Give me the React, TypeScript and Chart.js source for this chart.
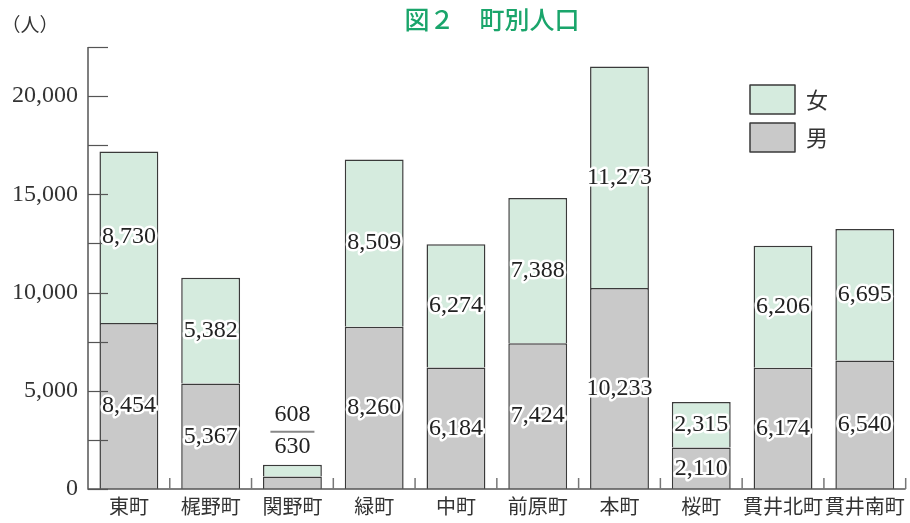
import React, { useEffect, useRef } from "react";
import { Chart, registerables } from "chart.js";

Chart.register(...registerables);

const categories = ["東町", "梶野町", "関野町", "緑町", "中町", "前原町", "本町", "桜町", "貫井北町", "貫井南町"];
const maleValues = [8454, 5367, 630, 8260, 6184, 7424, 10233, 2110, 6174, 6540];
const femaleValues = [8730, 5382, 608, 8509, 6274, 7388, 11273, 2315, 6206, 6695];
const yMax = 22500;
const yStep = 2500;
const yLabelStep = 5000;
const titleText = "図２　町別人口";
const unitText = "（人）";

const NUM_FONT = '24px "Liberation Serif", serif';
const CJK = '"Noto Sans CJK JP", sans-serif';
const FEMALE_COLOR = "#d5ebde";
const MALE_COLOR = "#c9c9c9";
const EDGE = "#3a3a3a";

const fmt = (v: number) => v.toLocaleString("en-US");

const decorPlugin = {
  id: "decor",
  afterDatasetsDraw(chart: any) {
    const ctx = chart.ctx;
    const area = chart.chartArea;
    const x = chart.scales.x;
    const y = chart.scales.y;
    ctx.save();
    // axes
    ctx.strokeStyle = "#555";
    ctx.lineWidth = 1.5;
    ctx.beginPath();
    ctx.moveTo(area.left, area.top);
    ctx.lineTo(area.left, area.bottom);
    ctx.lineTo(area.right, area.bottom);
    ctx.stroke();
    // inward y ticks
    ctx.lineWidth = 1.2;
    for (let v = 0; v <= yMax; v += yStep) {
      const py = Math.round(y.getPixelForValue(v)) + 0.5;
      ctx.beginPath();
      ctx.moveTo(area.left, py);
      ctx.lineTo(area.left + 20, py);
      ctx.stroke();
    }
    // category boundary ticks on x axis
    ctx.strokeStyle = "#777";
    ctx.lineWidth = 1.5;
    const n = categories.length;
    for (let i = 1; i <= n; i++) {
      const px = (x.getPixelForValue(i - 1) + (i < n ? x.getPixelForValue(i) : 2 * x.getPixelForValue(i - 1) - x.getPixelForValue(i - 2))) / 2;
      ctx.beginPath();
      ctx.moveTo(px, area.bottom);
      ctx.lineTo(px, area.bottom - 11);
      ctx.stroke();
    }

    // value labels
    const maleMeta = chart.getDatasetMeta(0);
    const femaleMeta = chart.getDatasetMeta(1);
    ctx.font = NUM_FONT;
    ctx.textAlign = "center";
    ctx.textBaseline = "middle";
    ctx.lineJoin = "round";
    const label = (t: string, px: number, py: number) => {
      ctx.strokeStyle = "#ffffff";
      ctx.lineWidth = 5;
      ctx.strokeText(t, px, py);
      ctx.fillStyle = "#222";
      ctx.fillText(t, px, py);
    };
    for (let i = 0; i < n; i++) {
      const mb = maleMeta.data[i];
      const fb = femaleMeta.data[i];
      const mH = Math.abs(mb.base - mb.y);
      const fH = Math.abs(fb.base - fb.y);
      if (mH < 30 || fH < 30) {
        const top = fb.y;
        ctx.fillStyle = "#222";
        ctx.fillText(fmt(femaleValues[i]), fb.x, top - 50);
        ctx.fillText(fmt(maleValues[i]), mb.x, top - 18);
        ctx.strokeStyle = "#888";
        ctx.lineWidth = 2;
        ctx.beginPath();
        ctx.moveTo(fb.x - 22, top - 33);
        ctx.lineTo(fb.x + 22, top - 33);
        ctx.stroke();
      } else {
        label(fmt(femaleValues[i]), fb.x, (fb.y + fb.base) / 2);
        label(fmt(maleValues[i]), mb.x, (mb.y + mb.base) / 2);
      }
    }

    // title & unit
    ctx.fillStyle = "#1aa56b";
    ctx.font = `500 25px ${CJK}`;
    ctx.textAlign = "center";
    ctx.fillText(titleText, 492, 19);
    ctx.fillStyle = "#333";
    ctx.font = `19px ${CJK}`;
    ctx.fillText(unitText, 30, 25);

    // legend
    const items = [
      { text: "女", color: FEMALE_COLOR, top: 85 },
      { text: "男", color: MALE_COLOR, top: 123 },
    ];
    for (const it of items) {
      ctx.fillStyle = it.color;
      ctx.fillRect(750, it.top, 45, 29);
      ctx.strokeStyle = EDGE;
      ctx.lineWidth = 1.5;
      ctx.strokeRect(750, it.top, 45, 29);
      ctx.fillStyle = "#333";
      ctx.font = `22px ${CJK}`;
      ctx.textAlign = "center";
      ctx.fillText(it.text, 817, it.top + 15);
    }
    ctx.restore();
  },
};

export default function App() {
  const ref = useRef<HTMLCanvasElement>(null);
  useEffect(() => {
    if (!ref.current) return;
    const chart = new Chart(ref.current, {
      type: "bar",
      data: {
        labels: categories,
        datasets: [
          {
            label: "男",
            data: maleValues,
            backgroundColor: MALE_COLOR,
            borderColor: EDGE,
            borderWidth: 1.5,
            barPercentage: 0.72,
            categoryPercentage: 1,
          },
          {
            label: "女",
            data: femaleValues,
            backgroundColor: FEMALE_COLOR,
            borderColor: EDGE,
            borderWidth: 1.5,
            barPercentage: 0.72,
            categoryPercentage: 1,
          },
        ],
      },
      options: {
        responsive: false,
        animation: false,
        layout: { padding: { top: 47, right: 4, left: 0, bottom: 0 } },
        plugins: { legend: { display: false }, tooltip: { enabled: false } },
        scales: {
          x: {
            stacked: true,
            grid: { display: false, drawTicks: false },
            border: { display: false },
            ticks: { color: "#333", font: { family: CJK, size: 20 }, padding: 5, maxRotation: 0, autoSkip: false },
            afterFit: (s: any) => {
              s.height = 34;
            },
          },
          y: {
            stacked: true,
            min: 0,
            max: yMax,
            grid: { display: false, drawTicks: false },
            border: { display: false },
            ticks: {
              stepSize: yStep,
              padding: 10,
              color: "#333",
              font: { family: '"Liberation Serif", serif', size: 24 },
              callback: (v: any) => (Number(v) % yLabelStep === 0 ? fmt(Number(v)) : ""),
            },
            afterFit: (s: any) => {
              s.width = 88;
            },
          },
        },
      },
      plugins: [decorPlugin],
    });
    return () => chart.destroy();
  }, []);
  return (
    <div style={{ position: "fixed", left: 0, top: 0, width: 910, height: 523, background: "#fff" }}>
      <canvas ref={ref} width={910} height={523} style={{ display: "block" }} />
    </div>
  );
}
